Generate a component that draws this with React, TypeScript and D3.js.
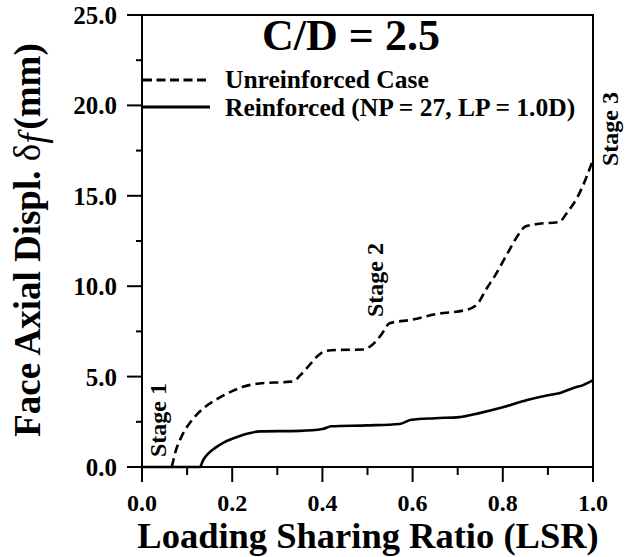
import React from "react";
import * as d3 from "d3";

const unreinfX = [0.066, 0.075, 0.088, 0.111, 0.137, 0.168, 0.2, 0.226, 0.26, 0.33, 0.34, 0.35, 0.37, 0.39, 0.405, 0.43, 0.49, 0.51, 0.53, 0.549, 0.6, 0.65, 0.72, 0.743, 0.765, 0.783, 0.81, 0.836, 0.85, 0.88, 0.925, 0.942, 0.965, 0.985, 1.0];
const unreinfY = [0.0, 0.9, 1.7, 2.6, 3.26, 3.78, 4.2, 4.45, 4.62, 4.72, 4.8, 5.05, 5.6, 6.15, 6.4, 6.47, 6.5, 6.75, 7.3, 7.95, 8.15, 8.45, 8.7, 9.0, 9.9, 10.6, 11.8, 12.9, 13.3, 13.45, 13.55, 14.05, 14.9, 16.0, 17.0];

const reinfX = [0.0, 0.128, 0.136, 0.146, 0.163, 0.181, 0.2, 0.217, 0.24, 0.261, 0.35, 0.4, 0.42, 0.5, 0.571, 0.597, 0.65, 0.704, 0.748, 0.8, 0.854, 0.9, 0.925, 0.96, 0.978, 1.0];
const reinfY = [0.0, 0.0, 0.4, 0.72, 1.07, 1.35, 1.56, 1.72, 1.88, 1.97, 2.0, 2.1, 2.25, 2.3, 2.38, 2.61, 2.7, 2.76, 2.98, 3.3, 3.7, 3.97, 4.08, 4.4, 4.53, 4.8];

const xTickValues = [0, 0.1, 0.2, 0.3, 0.4, 0.5, 0.6, 0.7, 0.8, 0.9, 1.0];
const xTickLabels = ["0.0", "", "0.2", "", "0.4", "", "0.6", "", "0.8", "", "1.0"];
const yTickValues = [0, 2.5, 5, 7.5, 10, 12.5, 15, 17.5, 20, 22.5, 25];
const yTickLabels = ["0.0", "", "5.0", "", "10.0", "", "15.0", "", "20.0", "", "25.0"];

const titleText = "C/D = 2.5";
const legendLabels = ["Unreinforced Case", "Reinforced (NP = 27, LP = 1.0D)"];
const stageLabels = ["Stage 1", "Stage 2", "Stage 3"];

const FONT = "'Liberation Serif', 'Times New Roman', serif";

export default function App() {
  const W = 625, H = 557;
  const x = d3.scaleLinear().domain([0, 1]).range([142, 593]);
  const y = d3.scaleLinear().domain([0, 25]).range([467, 15]);

  const line = d3
    .line<[number, number]>()
    .x((d) => x(d[0]))
    .y((d) => y(d[1]))
    .curve(d3.curveMonotoneX);

  const unreinf: [number, number][] = unreinfX.map((v, i) => [v, unreinfY[i]]);
  const reinf: [number, number][] = reinfX.map((v, i) => [v, reinfY[i]]);

  return (
    <svg
      width={W}
      height={H}
      viewBox={`0 0 ${W} ${H}`}
      style={{ position: "absolute", left: 0, top: 0, background: "#fff" }}
      fontFamily={FONT}
      fontWeight="bold"
    >
      <rect x={0} y={0} width={W} height={H} fill="#fff" />
      {/* frame */}
      <rect
        x={x(0)}
        y={y(25)}
        width={x(1) - x(0)}
        height={y(0) - y(25)}
        fill="none"
        stroke="#000"
        strokeWidth={2}
      />
      {/* x ticks */}
      {xTickValues.map((v, i) => (
        <g key={"xt" + i}>
          <line
            x1={x(v)}
            x2={x(v)}
            y1={y(0)}
            y2={y(0) + (xTickLabels[i] ? 15 : 8)}
            stroke="#000"
            strokeWidth={2}
          />
          {xTickLabels[i] && (
            <text x={x(v)} y={511} textAnchor="middle" fontSize={24}>
              {xTickLabels[i]}
            </text>
          )}
        </g>
      ))}
      {/* y ticks */}
      {yTickValues.map((v, i) => (
        <g key={"yt" + i}>
          <line
            x1={x(0) - (yTickLabels[i] ? 15 : 6)}
            x2={x(0)}
            y1={y(v)}
            y2={y(v)}
            stroke="#000"
            strokeWidth={2}
          />
          {yTickLabels[i] && (
            <text x={117} y={y(v) + 9} textAnchor="end" fontSize={25}>
              {yTickLabels[i]}
            </text>
          )}
        </g>
      ))}

      {/* curves */}
      <path d={line(unreinf) || ""} fill="none" stroke="#000" strokeWidth={2.6} strokeDasharray="9,5" />
      <path d={line(reinf) || ""} fill="none" stroke="#000" strokeWidth={2.6} />

      {/* title */}
      <text x={351} y={50} textAnchor="middle" fontSize={44}>
        {titleText}
      </text>

      {/* legend */}
      <line x1={143} x2={210} y1={80} y2={80} stroke="#000" strokeWidth={2.8} strokeDasharray="9,4.5" />
      <text x={225} y={88} fontSize={25.5}>
        {legendLabels[0]}
      </text>
      <line x1={143} x2={210} y1={107} y2={107} stroke="#000" strokeWidth={2.8} />
      <text x={225} y={116} fontSize={25.5}>
        {legendLabels[1]}
      </text>

      {/* stage labels */}
      <text transform="translate(166,420) rotate(-90)" textAnchor="middle" fontSize={24}>
        {stageLabels[0]}
      </text>
      <text transform="translate(383,280) rotate(-90)" textAnchor="middle" fontSize={24}>
        {stageLabels[1]}
      </text>
      <text transform="translate(618,129) rotate(-90)" textAnchor="middle" fontSize={24}>
        {stageLabels[2]}
      </text>

      {/* axis titles */}
      <text x={368} y={548} textAnchor="middle" fontSize={36.5}>
        Loading Sharing Ratio (LSR)
      </text>
      <text transform="translate(40,240) rotate(-90)" textAnchor="middle" fontSize={37}>
        Face Axial Displ. <tspan fontWeight="normal">δ</tspan>
        <tspan fontStyle="italic" fontWeight="normal" dy={5}>f</tspan>
        <tspan dy={-5} dx={4}>(mm)</tspan>
      </text>
    </svg>
  );
}
